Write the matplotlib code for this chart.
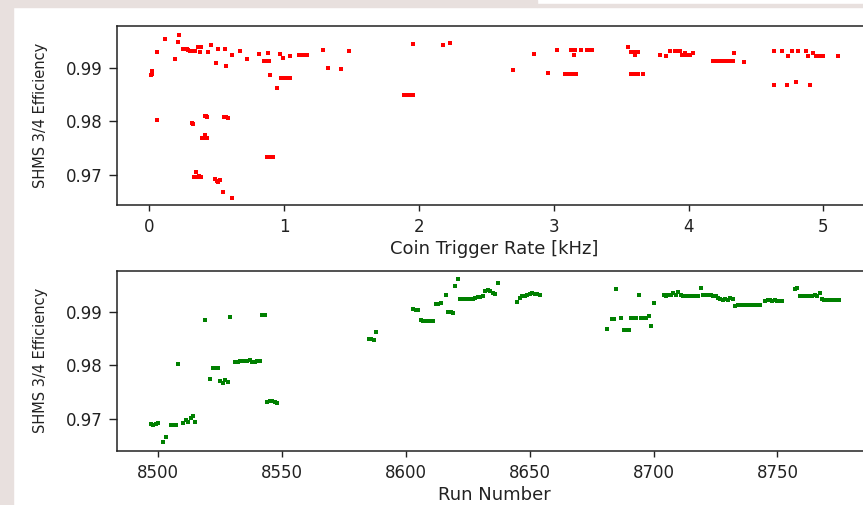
import matplotlib
matplotlib.use("Agg")
import matplotlib.pyplot as plt
from matplotlib.patches import Rectangle

# ---- Top panel: efficiency vs coin trigger rate [kHz]
rate_khz = [0.02, 0.02, 0.01, 0.06, 0.06, 0.119, 0.193, 0.21, 0.222,
            0.248, 0.262, 0.276, 0.289, 0.30, 0.315, 0.33, 0.34, 0.359, 0.37, 0.381, 0.376,
            0.437, 0.46, 0.497, 0.509, 0.563, 0.571, 0.613, 0.672, 0.724, 0.815,
            0.85, 0.868, 0.887, 0.878, 0.897, 0.949, 0.969, 0.989,
            0.976, 0.99, 1.005, 1.02, 1.043, 1.043, 1.11, 1.13, 1.15, 1.171,
            1.288, 1.327, 1.419, 1.48, 1.89, 1.91, 1.935, 1.957, 1.953, 2.177, 2.229,
            0.319, 0.325, 0.415, 0.42, 0.425, 0.554, 0.57, 0.586,
            0.39, 0.41, 0.43, 0.415, 0.87, 0.89, 0.91, 0.92,
            0.344, 0.331, 0.355, 0.37, 0.383, 0.487, 0.50, 0.512, 0.524, 0.549, 0.611,
            2.698, 2.854, 2.955, 3.027, 3.082, 3.11, 3.14, 3.168, 3.124, 3.158, 3.151,
            3.203, 3.247, 3.265, 3.284, 3.551, 3.576, 3.6, 3.625, 3.6,
            3.576, 3.6, 3.625, 3.662, 3.786, 3.835, 3.86, 3.897, 3.915, 3.934,
            3.949, 3.97, 3.99, 4.008, 3.971, 4.033,
            4.181, 4.21, 4.24, 4.27, 4.30, 4.329, 4.337, 4.408,
            4.636, 4.692, 4.737, 4.769, 4.814, 4.870, 4.922, 4.885, 4.947, 4.97, 4.996, 5.107,
            4.636, 4.727, 4.799, 4.9]
eff_rate = [0.9893, 0.9889, 0.9886, 0.9929, 0.9803, 0.9953, 0.9917, 0.9948, 0.9962,
            0.9935, 0.9935, 0.9935, 0.9934, 0.9931, 0.9931, 0.9932, 0.9931, 0.9939, 0.9939, 0.9939, 0.9930,
            0.9929, 0.9943, 0.9908, 0.9935, 0.9935, 0.9903, 0.9923, 0.9931, 0.9917, 0.9925,
            0.9913, 0.9913, 0.9913, 0.9927, 0.9886, 0.9862, 0.9925, 0.9919,
            0.9881, 0.9881, 0.9881, 0.9881, 0.9881, 0.9922, 0.9924, 0.9924, 0.9923, 0.9923,
            0.9933, 0.9899, 0.9897, 0.9931, 0.9848, 0.9848, 0.9848, 0.9848, 0.9945, 0.9943, 0.9946,
            0.9796, 0.9795, 0.9809, 0.9810, 0.9808, 0.9808, 0.9807, 0.9806,
            0.9769, 0.9769, 0.9769, 0.9774, 0.9732, 0.9732, 0.9732, 0.9733,
            0.9704, 0.9696, 0.9695, 0.9698, 0.9696, 0.9691, 0.9688, 0.9686, 0.9690, 0.9667, 0.9657,
            0.9895, 0.9925, 0.9890, 0.9933, 0.9888, 0.9888, 0.9888, 0.9888, 0.9933, 0.9933, 0.9924,
            0.9933, 0.9933, 0.9933, 0.9933, 0.9939, 0.9929, 0.9929, 0.9929, 0.9923,
            0.9888, 0.9888, 0.9888, 0.9888, 0.9923, 0.9922, 0.9931, 0.9931, 0.9931, 0.9931,
            0.9923, 0.9923, 0.9923, 0.9923, 0.9928, 0.9927,
            0.9913, 0.9912, 0.9912, 0.9913, 0.9912, 0.9913, 0.9927, 0.9911,
            0.9931, 0.9931, 0.9921, 0.9931, 0.9931, 0.9931, 0.9928, 0.9921, 0.9921, 0.9921, 0.9921, 0.9921,
            0.9868, 0.9868, 0.9874, 0.9868]

# ---- Bottom panel: efficiency vs run number
run_number = [8497, 8498, 8499, 8500, 8502, 8503, 8505, 8506, 8507, 8508,
              8510, 8511, 8512, 8513, 8514, 8515, 8519, 8521, 8522, 8523, 8524,
              8525, 8526, 8527, 8528, 8529,
              8531, 8532, 8533, 8534, 8535, 8536, 8537, 8538, 8539, 8540, 8541,
              8542, 8543, 8544, 8545, 8546, 8547, 8548,
              8585, 8586, 8587, 8588, 8603, 8604, 8605,
              8606, 8607, 8608, 8609, 8610, 8611, 8612, 8613, 8614, 8616,
              8617, 8618, 8619, 8620, 8621,
              8622, 8623, 8624, 8625, 8626, 8627, 8628, 8629, 8630, 8631,
              8632, 8633, 8634, 8635, 8636, 8637,
              8645, 8646, 8647, 8648, 8649, 8650, 8651, 8652, 8653, 8654,
              8681, 8683, 8684, 8685, 8687, 8688, 8689, 8690,
              8691, 8692, 8693, 8694, 8695, 8696, 8697, 8698, 8699, 8700,
              8704, 8705, 8706, 8707, 8708, 8709, 8710,
              8711, 8712, 8713, 8714, 8715, 8716, 8717, 8718, 8719,
              8720, 8721, 8722, 8723, 8724, 8725,
              8726, 8727, 8728, 8729, 8730, 8731, 8732,
              8733, 8734, 8735, 8736, 8737, 8738, 8739, 8740, 8741, 8742, 8743,
              8745, 8746, 8747, 8748, 8749, 8750, 8751, 8752,
              8757, 8758, 8759, 8760, 8761, 8762, 8763, 8764, 8765, 8766, 8767,
              8768, 8769, 8770, 8771, 8772, 8773, 8774, 8775]
eff_run = [0.9690, 0.9689, 0.9690, 0.9693, 0.9657, 0.9667, 0.9689, 0.9689, 0.9689, 0.9802,
           0.9693, 0.9698, 0.9694, 0.9701, 0.9706, 0.9694, 0.9885, 0.9775, 0.9796, 0.9796, 0.9796,
           0.9770, 0.9767, 0.9773, 0.9769, 0.9890,
           0.9807, 0.9807, 0.9808, 0.9808, 0.9809, 0.9809, 0.9810, 0.9807, 0.9806, 0.9808, 0.9808,
           0.9894, 0.9894, 0.9732, 0.9733, 0.9734, 0.9731, 0.9729,
           0.9850, 0.9849, 0.9848, 0.9863, 0.9905, 0.9904, 0.9903,
           0.9885, 0.9883, 0.9882, 0.9883, 0.9882, 0.9883, 0.9914, 0.9915, 0.9916, 0.9932,
           0.9900, 0.9899, 0.9898, 0.9947, 0.9961,
           0.9924, 0.9924, 0.9924, 0.9924, 0.9924, 0.9923, 0.9926, 0.9927, 0.9928, 0.9930,
           0.9939, 0.9940, 0.9938, 0.9934, 0.9933, 0.9953,
           0.9918, 0.9926, 0.9929, 0.9930, 0.9932, 0.9933, 0.9934, 0.9933, 0.9933, 0.9932,
           0.9868, 0.9887, 0.9886, 0.9942, 0.9888, 0.9866, 0.9866, 0.9866,
           0.9888, 0.9888, 0.9888, 0.9931, 0.9888, 0.9888, 0.9889, 0.9892, 0.9874, 0.9917,
           0.9931, 0.9930, 0.9931, 0.9932, 0.9934, 0.9932, 0.9936,
           0.9931, 0.9930, 0.9930, 0.9930, 0.9930, 0.9930, 0.9930, 0.9930, 0.9945,
           0.9931, 0.9931, 0.9932, 0.9931, 0.9930, 0.9929,
           0.9925, 0.9923, 0.9922, 0.9923, 0.9922, 0.9925, 0.9923,
           0.9910, 0.9912, 0.9912, 0.9913, 0.9912, 0.9912, 0.9912, 0.9912, 0.9912, 0.9912, 0.9913,
           0.9920, 0.9921, 0.9921, 0.9920, 0.9921, 0.9920, 0.9920, 0.9920,
           0.9942, 0.9945, 0.9930, 0.9930, 0.9929, 0.9930, 0.9929, 0.9930, 0.9931, 0.9930, 0.9934,
           0.9923, 0.9922, 0.9922, 0.9922, 0.9922, 0.9922, 0.9922, 0.9922]

ytick_vals = [0.97, 0.98, 0.99]
ytick_labels = ["0.97", "0.98", "0.99"]
rate_ticks = [0, 1, 2, 3, 4, 5]
run_ticks = [8500, 8550, 8600, 8650, 8700, 8750]

W, H = 863, 505
fig = plt.figure(figsize=(W / 100, H / 100), dpi=100, facecolor="white")

# screenshot-like border strips
bg = "#e8e0de"
fig.patches.append(Rectangle((0, 0), 13 / W, 1, transform=fig.transFigure, color=bg, zorder=0))
fig.patches.append(Rectangle((0, 1 - 7 / H), 537 / W, 7 / H, transform=fig.transFigure, color=bg, zorder=0))
fig.patches.append(Rectangle((537 / W, 1 - 7 / H), 1 - 537 / W, 3 / H, transform=fig.transFigure, color=bg, zorder=0))


def px_axes(left, top, right, bottom):
    return fig.add_axes([left / W, 1 - bottom / H, (right - left) / W, (bottom - top) / H])


ax1 = px_axes(117, 26, 872, 204.5)
ax2 = px_axes(117, 270.7, 872, 450.7)

ax1.plot(rate_khz, eff_rate, linestyle="none", marker="s", ms=2.9, mew=0, color="red")
ax2.plot(run_number, eff_run, linestyle="none", marker="s", ms=2.9, mew=0, color="green")

ax1.set_xlim(-0.24, 5.36)
ax1.set_ylim(0.9644, 0.9978)
ax2.set_xlim(8483.3, 8788.2)
ax2.set_ylim(0.9641, 0.99764)

for ax, xt in ((ax1, rate_ticks), (ax2, run_ticks)):
    ax.set_xticks(xt)
    ax.set_yticks(ytick_vals)
    ax.set_yticklabels(ytick_labels)
    ax.tick_params(axis="both", labelsize=12, colors="#222222", width=1)
    ax.tick_params(axis="x", length=4.5, pad=5)
    ax.tick_params(axis="y", length=6, pad=4)
    for s in ax.spines.values():
        s.set_linewidth(1.1)
        s.set_color("#222222")
    ax.set_ylabel("SHMS 3/4 Efficiency", fontsize=10.5, color="#222222")
    ax.yaxis.set_label_coords(-0.091, 0.5)

ax1.set_xlabel("Coin Trigger Rate [kHz]", fontsize=13, color="#222222", labelpad=3)
ax2.set_xlabel("Run Number", fontsize=13, color="#222222", labelpad=3)

fig.savefig("out.png", dpi=100, facecolor="white")
